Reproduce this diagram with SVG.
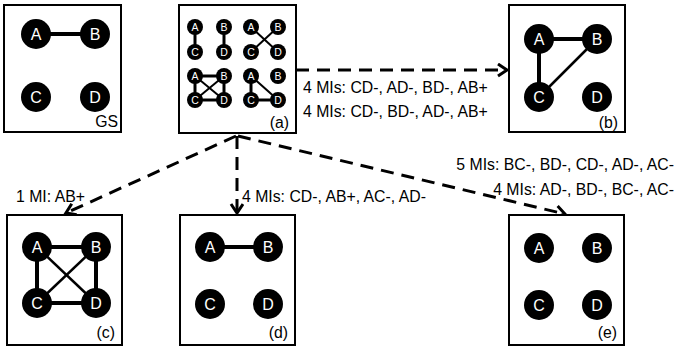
<svg xmlns="http://www.w3.org/2000/svg" width="676" height="347" viewBox="0 0 676 347">
<defs>
<style>
.box{fill:#fff;stroke:#000;stroke-width:2}
.n{fill:#000}
.nl{fill:#fff;font-family:"Liberation Sans",Arial,sans-serif;font-size:16px;text-anchor:middle}
.sl{fill:#fff;font-family:"Liberation Sans",Arial,sans-serif;font-size:10.5px;text-anchor:middle}
.e{stroke:#000;stroke-width:4}
.et{stroke:#000;stroke-width:2.5}
.se{stroke:#000;stroke-width:3}
.st{stroke:#000;stroke-width:2}
.lab{fill:#000;font-family:"Liberation Sans",Arial,sans-serif;font-size:15.8px}
.cap{fill:#000;font-family:"Liberation Sans",Arial,sans-serif;font-size:15.8px;text-anchor:end}
.arr{fill:none;stroke:#000;stroke-width:3;stroke-dasharray:13 8;marker-end:url(#ah)}
</style>
<marker id="ah" markerUnits="userSpaceOnUse" markerWidth="16" markerHeight="16" refX="11" refY="7" orient="auto">
<path d="M2,1 L11,7 L2,13" fill="none" stroke="#000" stroke-width="3"/>
</marker>
</defs>

<g id="connectors">
<path class="arr" d="M296,70 L507,70"/>
<path class="arr" d="M236,136 L66,213"/>
<path class="arr" d="M237,136 L237,213"/>
<path class="arr" d="M238,136 L565,214"/>
</g>

<g id="labels">
<text class="lab" x="303" y="93">4 MIs: CD-, AD-, BD-, AB+</text>
<text class="lab" x="303" y="117">4 MIs: CD-, BD-, AD-, AB+</text>
<text class="lab" x="16" y="202">1 MI: AB+</text>
<text class="lab" x="242" y="202">4 MIs: CD-, AB+, AC-, AD-</text>
<text class="cap" x="674" y="170">5 MIs: BC-, BD-, CD-, AD-, AC-</text>
<text class="cap" x="674" y="195">4 MIs: AD-, BD-, BC-, AC-</text>
</g>

<g id="GS">
<rect class="box" x="4" y="5" width="117" height="127"/>
<line class="e" x1="36" y1="34" x2="95" y2="34"/>
<circle class="n" cx="36" cy="34" r="15"/><text class="nl" x="36" y="40">A</text>
<circle class="n" cx="95" cy="34" r="15"/><text class="nl" x="95" y="40">B</text>
<circle class="n" cx="36" cy="97" r="15"/><text class="nl" x="36" y="103">C</text>
<circle class="n" cx="95" cy="97" r="15"/><text class="nl" x="95" y="103">D</text>
<text class="cap" x="118" y="127">GS</text>
</g>

<g id="a">
<rect class="box" x="179" y="5" width="117" height="128"/>
<line class="se" x1="195" y1="27" x2="195" y2="52"/>
<line class="se" x1="224" y1="27" x2="224" y2="52"/>
<line class="st" x1="251" y1="27" x2="278" y2="52"/>
<line class="st" x1="278" y1="27" x2="251" y2="52"/>
<line class="se" x1="195" y1="76" x2="224" y2="76"/>
<line class="se" x1="195" y1="76" x2="195" y2="100"/>
<line class="se" x1="224" y1="76" x2="224" y2="100"/>
<line class="se" x1="195" y1="100" x2="224" y2="100"/>
<line class="st" x1="195" y1="76" x2="224" y2="100"/>
<line class="st" x1="224" y1="76" x2="195" y2="100"/>
<line class="se" x1="251" y1="76" x2="251" y2="100"/>
<line class="se" x1="251" y1="100" x2="278" y2="100"/>
<line class="st" x1="251" y1="76" x2="278" y2="100"/>
<circle class="n" cx="195" cy="27" r="8"/><text class="sl" x="195" y="30.8">A</text>
<circle class="n" cx="195" cy="52" r="8"/><text class="sl" x="195" y="55.8">C</text>
<circle class="n" cx="224" cy="27" r="8"/><text class="sl" x="224" y="30.8">B</text>
<circle class="n" cx="224" cy="52" r="8"/><text class="sl" x="224" y="55.8">D</text>
<circle class="n" cx="251" cy="27" r="8"/><text class="sl" x="251" y="30.8">A</text>
<circle class="n" cx="278" cy="27" r="8"/><text class="sl" x="278" y="30.8">B</text>
<circle class="n" cx="251" cy="52" r="8"/><text class="sl" x="251" y="55.8">C</text>
<circle class="n" cx="278" cy="52" r="8"/><text class="sl" x="278" y="55.8">D</text>
<circle class="n" cx="195" cy="76" r="8"/><text class="sl" x="195" y="79.8">A</text>
<circle class="n" cx="224" cy="76" r="8"/><text class="sl" x="224" y="79.8">B</text>
<circle class="n" cx="195" cy="100" r="8"/><text class="sl" x="195" y="103.8">C</text>
<circle class="n" cx="224" cy="100" r="8"/><text class="sl" x="224" y="103.8">D</text>
<circle class="n" cx="251" cy="76" r="8"/><text class="sl" x="251" y="79.8">A</text>
<circle class="n" cx="278" cy="76" r="8"/><text class="sl" x="278" y="79.8">B</text>
<circle class="n" cx="251" cy="100" r="8"/><text class="sl" x="251" y="103.8">C</text>
<circle class="n" cx="278" cy="100" r="8"/><text class="sl" x="278" y="103.8">D</text>
<text class="cap" x="289" y="128">(a)</text>
</g>

<g id="b">
<rect class="box" x="509" y="5" width="116" height="127"/>
<line class="e" x1="539" y1="39" x2="597" y2="39"/>
<line class="e" x1="539" y1="39" x2="539" y2="97"/>
<line class="et" x1="597" y1="39" x2="539" y2="97"/>
<circle class="n" cx="539" cy="39" r="15"/><text class="nl" x="539" y="45">A</text>
<circle class="n" cx="597" cy="39" r="15"/><text class="nl" x="597" y="45">B</text>
<circle class="n" cx="539" cy="97" r="15"/><text class="nl" x="539" y="103">C</text>
<circle class="n" cx="597" cy="97" r="15"/><text class="nl" x="597" y="103">D</text>
<text class="cap" x="618" y="128">(b)</text>
</g>

<g id="c">
<rect class="box" x="7" y="215" width="115" height="130"/>
<line class="e" x1="37" y1="247" x2="96" y2="247"/>
<line class="e" x1="37" y1="247" x2="37" y2="303"/>
<line class="e" x1="96" y1="247" x2="96" y2="303"/>
<line class="e" x1="37" y1="303" x2="96" y2="303"/>
<line class="et" x1="37" y1="247" x2="96" y2="303"/>
<line class="et" x1="96" y1="247" x2="37" y2="303"/>
<circle class="n" cx="37" cy="247" r="15"/><text class="nl" x="37" y="253">A</text>
<circle class="n" cx="96" cy="247" r="15"/><text class="nl" x="96" y="253">B</text>
<circle class="n" cx="37" cy="303" r="15"/><text class="nl" x="37" y="309">C</text>
<circle class="n" cx="96" cy="303" r="15"/><text class="nl" x="96" y="309">D</text>
<text class="cap" x="115" y="338">(c)</text>
</g>

<g id="d">
<rect class="box" x="180" y="215" width="115" height="130"/>
<line class="e" x1="210" y1="247" x2="268" y2="247"/>
<circle class="n" cx="210" cy="247" r="15"/><text class="nl" x="210" y="253">A</text>
<circle class="n" cx="268" cy="247" r="15"/><text class="nl" x="268" y="253">B</text>
<circle class="n" cx="210" cy="304" r="15"/><text class="nl" x="210" y="310">C</text>
<circle class="n" cx="268" cy="304" r="15"/><text class="nl" x="268" y="310">D</text>
<text class="cap" x="288" y="338">(d)</text>
</g>

<g id="e">
<rect class="box" x="509" y="215" width="115" height="130"/>
<circle class="n" cx="539" cy="248" r="15"/><text class="nl" x="539" y="254">A</text>
<circle class="n" cx="597" cy="248" r="15"/><text class="nl" x="597" y="254">B</text>
<circle class="n" cx="539" cy="305" r="15"/><text class="nl" x="539" y="311">C</text>
<circle class="n" cx="597" cy="305" r="15"/><text class="nl" x="597" y="311">D</text>
<text class="cap" x="617" y="338">(e)</text>
</g>
</svg>
